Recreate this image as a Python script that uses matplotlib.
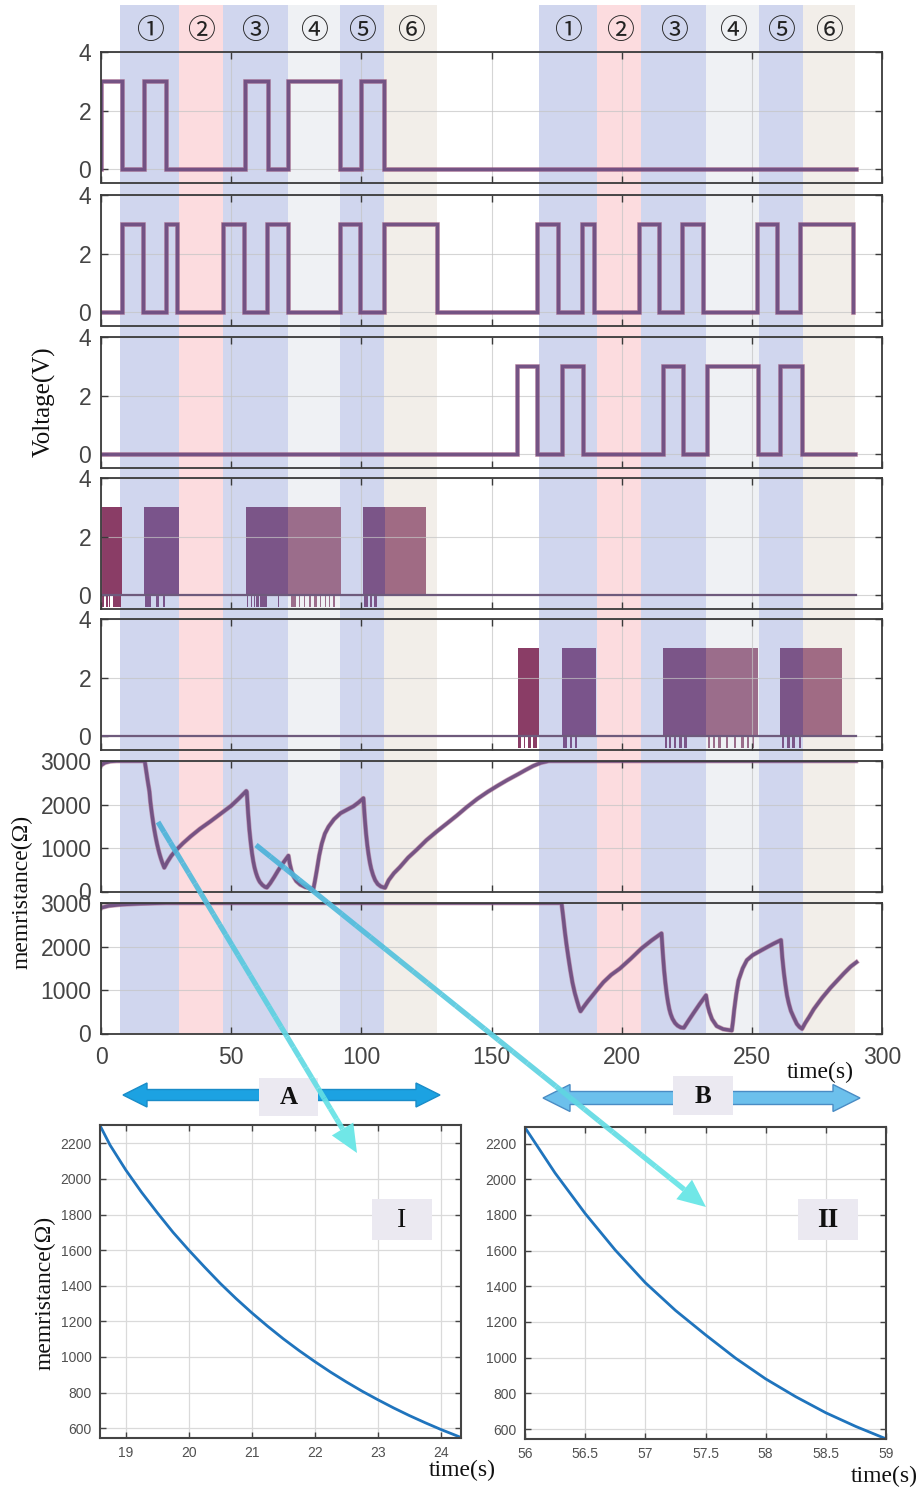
import numpy as np
import matplotlib
matplotlib.use('Agg')
import matplotlib.pyplot as plt
from matplotlib.patches import Rectangle, Polygon
from matplotlib.collections import LineCollection
from matplotlib.colors import to_rgb

# ---------------- data ----------------
band_edges_1 = [7.4, 30.0, 46.8, 71.8, 91.8, 108.8, 128.9]
band_edges_2 = [168.3, 190.7, 207.6, 232.5, 252.6, 269.6, 289.7]
band_labels = ['①', '②', '③', '④', '⑤', '⑥']

v1_pulses = [(0.0, 8.2), (16.4, 25.1), (55.3, 64.1), (72.0, 91.8), (100.0, 108.8)]
v2_pulses = [(8.2, 16.2), (25.0, 29.3), (46.9, 55.1), (63.9, 71.9), (91.8, 99.6),
             (108.8, 128.9), (167.6, 175.4), (184.6, 189.5), (206.6, 214.5),
             (223.2, 231.4), (252.0, 259.8), (268.6, 289.0)]
v3_pulses = [(159.8, 167.6), (177.0, 185.0), (215.8, 223.4), (232.8, 252.2), (261.0, 269.2)]
v_end = [290.0, 289.0, 289.5]
pulse_high = 3.0

burst4_start = [0.0, 16.6, 55.8, 71.8, 100.7, 108.9]
burst4_end = [8.0, 30.0, 71.8, 92.0, 108.9, 125.0]
burst5_start = [160.0, 177.0, 216.0, 232.5, 261.0, 269.6]
burst5_end = [168.3, 190.3, 232.5, 252.3, 269.6, 284.7]
dips4 = [(0.2, 1.2), (2.0, 2.5), (3.0, 3.5), (4.8, 7.5), (17.0, 19.3), (21.2, 22.4), (23.8, 24.5),
         (56.0, 56.6), (57.5, 58.0), (58.6, 59.1), (59.6, 60.5), (61.0, 63.8), (68.0, 68.5),
         (73.0, 74.8), (76.0, 76.5), (78.0, 78.5), (80.0, 80.6), (82.0, 82.8), (84.0, 84.5),
         (86.0, 86.5), (87.5, 88.0), (89.0, 90.0), (101.0, 102.5), (103.5, 104.0), (105.0, 106.0)]
dips5 = [(160.3, 161.5), (162.5, 163.0), (164.0, 165.0), (166.0, 167.5), (177.5, 179.0),
         (180.0, 181.0), (182.0, 183.0), (216.5, 217.5), (218.0, 219.0), (220.0, 221.0),
         (222.0, 223.0), (224.0, 225.0), (233.0, 234.0), (235.0, 236.0), (237.0, 238.0),
         (240.0, 241.0), (243.0, 244.0), (246.0, 247.0), (248.0, 249.0), (250.0, 251.0),
         (261.5, 262.5), (263.5, 264.5), (265.5, 266.5), (268.0, 269.0)]
burst_high = 3.0
dip_low = -0.42

mem1 = [(0, 2900), (1.5, 2960), (3.5, 2990), (6, 3000), (16.8, 3000), (17.3, 2800), (17.9, 2560),
        (18.6, 2300), (19.0, 2050), (19.5, 1810), (20.0, 1600), (20.5, 1413), (21.0, 1248),
        (21.5, 1102), (22.0, 974), (22.5, 860), (23.0, 760), (23.5, 671), (24.0, 593), (24.3, 548),
        (25.5, 680), (27, 820), (29, 960), (31.5, 1110), (34.5, 1270), (38, 1440), (42, 1610),
        (46, 1790), (50, 1970), (53, 2140), (55.8, 2310), (56.0, 2290), (56.5, 1808), (57.0, 1420),
        (57.5, 1128), (58.0, 881), (58.5, 691), (59.0, 545), (59.5, 435), (60.0, 345),
        (60.5, 275), (61.0, 220), (62.0, 150), (63.0, 105), (63.7, 90), (65.0, 190),
        (66.5, 330), (68.0, 480), (70.0, 660), (72.0, 824), (72.5, 640), (73.2, 470),
        (74.0, 340), (75.0, 240), (76.5, 160), (78.5, 100), (81.6, 63), (82.2, 250),
        (82.9, 490), (83.8, 820), (84.8, 1100), (86.0, 1330), (87.4, 1490), (89.5, 1660),
        (92.0, 1800), (94.5, 1880), (97.0, 1960), (99.0, 2050), (100.8, 2145), (101.3, 1700),
        (101.8, 1340), (102.3, 1060), (102.8, 840), (103.3, 660), (103.8, 520), (104.5, 380),
        (105.3, 260), (106.3, 170), (107.5, 115), (109.1, 84), (110.5, 260), (112.5, 420),
        (114.8, 560), (118, 780), (121.3, 962), (125, 1180), (129, 1381), (133, 1570),
        (136.7, 1747), (140.5, 1940), (144.5, 2127), (148.5, 2290), (152.3, 2430),
        (156, 2560), (160.2, 2696), (163, 2790), (166, 2886), (169, 2960), (172, 3000),
        (290, 3000)]

mem2 = [(0, 2890), (3, 2935), (8, 2965), (15, 2985), (25, 3000), (176.9, 3000), (177.5, 2700),
        (178.2, 2330), (178.8, 2050), (179.5, 1760), (180.3, 1450), (181.1, 1170), (182.0, 930),
        (182.9, 740), (183.6, 600), (184.2, 510), (185.5, 620), (187, 740), (190.3, 985),
        (193, 1180), (196, 1350), (199.3, 1493), (203.5, 1720), (207.6, 1955), (211.5, 2140),
        (215.3, 2302), (215.8, 1850), (216.3, 1460), (216.8, 1160), (217.3, 910), (217.8, 715),
        (218.3, 560), (218.8, 450), (219.5, 340), (220.5, 240), (221.5, 180), (222.7, 140),
        (223.9, 131), (225.5, 280), (227.5, 460), (230, 680), (232.4, 878), (233.0, 650),
        (233.7, 492), (234.7, 330), (236.5, 170), (239, 100), (242.3, 69), (242.8, 300),
        (243.2, 531), (244.0, 900), (244.9, 1224), (246.5, 1500), (248.1, 1686), (250.3, 1800),
        (252.6, 1878), (256, 1990), (258.5, 2070), (261.2, 2148), (261.7, 1750), (262.3, 1400),
        (262.9, 1120), (263.5, 880), (264.2, 690), (265.0, 520), (266.1, 370), (267.3, 220),
        (268.3, 150), (269.3, 108), (270.5, 240), (272, 380), (273.8, 560), (277, 820),
        (280.2, 1050), (283, 1230), (285.3, 1378), (288, 1540), (290.2, 1640)]

zoom1_t = [18.59, 18.75, 19.0, 19.25, 19.5, 19.75, 20.0, 20.25, 20.5, 20.75, 21.0, 21.25, 21.5,
           21.75, 22.0, 22.25, 22.5, 22.75, 23.0, 23.25, 23.5, 23.75, 24.0, 24.32]
zoom1_m = [2300, 2190, 2050, 1925, 1810, 1700, 1600, 1505, 1413, 1328, 1248, 1173, 1102,
           1036, 974, 915, 860, 808, 760, 714, 671, 631, 593, 548]
zoom2_t = [56.0, 56.25, 56.5, 56.75, 57.0, 57.25, 57.5, 57.75, 58.0, 58.25, 58.5, 58.75, 59.0]
zoom2_m = [2290, 2035, 1808, 1603, 1420, 1265, 1128, 997, 881, 781, 691, 614, 545]

x_ticks = [0, 50, 100, 150, 200, 250, 300]
v_ticks = [0, 2, 4]
m_ticks = [0, 1000, 2000, 3000]
z1_xticks = [19, 20, 21, 22, 23, 24]
z2_xticks = [56, 56.5, 57, 57.5, 58, 58.5, 59]
z_yticks = [600, 800, 1000, 1200, 1400, 1600, 1800, 2000, 2200]

# ---------------- styles ----------------
W, H = 921, 1487
band_colors = ['#d0d6ee', '#fcdcdf', '#d0d6ee', '#eff1f4', '#d0d6ee', '#f2eee9']
burst_colors = ['#8a3d66', '#7a548b', '#7b5588', '#9b6d8b', '#7b5588', '#a06b84']
line_col = '#6c4c80'
SANS = 'Liberation Sans'
SERIF = 'Liberation Serif'

fig = plt.figure(figsize=(W / 100, H / 100), dpi=100)


def rect(x0, y0, x1, y1):
    return [x0 / W, 1 - y1 / H, (x1 - x0) / W, (y1 - y0) / H]


AX_L, AX_R = 101, 882
# background bands
axbg = fig.add_axes(rect(AX_L, 5, AX_R, 1033))
axbg.set_xlim(0, 300)
axbg.set_ylim(0, 1)
axbg.axis('off')
for edges in (band_edges_1, band_edges_2):
    for i in range(6):
        axbg.axvspan(edges[i], edges[i + 1], color=band_colors[i], lw=0)
        axbg.text((edges[i] + edges[i + 1]) / 2, (1033 - 31) / (1033 - 5), band_labels[i],
                  ha='center', va='center', fontsize=20, color='#222222',
                  family=['Noto Sans CJK SC', 'DejaVu Sans'])

tops = [52, 195, 337, 478, 619, 761, 903]
ph = 130.5
axes = []
for i, tp in enumerate(tops):
    ax = fig.add_axes(rect(AX_L, tp, AX_R, tp + ph))
    ax.set_facecolor('none')
    ax.set_xlim(0, 300)
    ax.set_xticks(x_ticks)
    ax.grid(True, color='#c4c4c4', lw=0.8, alpha=0.7)
    ax.tick_params(direction='in', top=True, right=True, length=5, width=1,
                   colors='#3a3a3a', labelsize=16.5, labelcolor='#444444', pad=7)
    if i < 6:
        ax.tick_params(labelbottom=False)
    for s in ax.spines.values():
        s.set_color('#3a3a3a')
        s.set_linewidth(1.3)
    axes.append(ax)


def steps(pulses, t_end, hi):
    t = [0.0]
    v = [0.0]
    for s, e in pulses:
        t += [s, s, e, e]
        v += [0, hi, hi, 0]
    t.append(t_end)
    v.append(0)
    return np.array(t), np.array(v)


for ax, pulses, te in zip(axes[:3], (v1_pulses, v2_pulses, v3_pulses), v_end):
    t, v = steps(pulses, te, pulse_high)
    ax.plot(t, v, color='#a04f74', lw=3.4, alpha=0.55, solid_joinstyle='miter')
    ax.plot(t, v, color=line_col, lw=2.5, alpha=0.9, solid_joinstyle='miter')

for ax, bs, be, dips in ((axes[3], burst4_start, burst4_end, dips4),
                         (axes[4], burst5_start, burst5_end, dips5)):
    ax.plot([0, 290], [0, 0], color='#6e5a7c', lw=1.6)
    for k, (s, e) in enumerate(zip(bs, be)):
        ax.fill_between([s, e], [0, 0], [burst_high, burst_high], color=burst_colors[k], lw=0)
    for s, e in dips:
        col = '#7b5588'
        for k, (a, b) in enumerate(zip(bs, be)):
            if a <= s <= b:
                col = burst_colors[k]
        ax.fill_between([s, e], [dip_low, dip_low], [0, 0], color=col, lw=0)

for ax in axes[:5]:
    ax.set_ylim(-0.46, 4.0)
    ax.set_yticks(v_ticks)

for ax, mem in ((axes[5], mem1), (axes[6], mem2)):
    arr = np.array(mem, dtype=float)
    ax.plot(arr[:, 0], arr[:, 1], color='#a04f74', lw=3.4, alpha=0.5)
    ax.plot(arr[:, 0], arr[:, 1], color=line_col, lw=2.5, alpha=0.9)
    ax.set_ylim(0, 3000)
    ax.set_yticks(m_ticks)
axes[6].tick_params(pad=9, axis='x')
for ax in axes:
    for lab in ax.get_xticklabels() + ax.get_yticklabels():
        lab.set_family(SANS)

# ---------------- zoom insets ----------------
def inset(r, t, m, xlim, ylim, xt, xtl):
    ax = fig.add_axes(r)
    ax.set_xlim(*xlim)
    ax.set_ylim(*ylim)
    ax.set_xticks(xt)
    ax.set_xticklabels(xtl)
    ax.set_yticks(z_yticks)
    ax.grid(True, color='#dadada', lw=0.9)
    ax.tick_params(direction='in', top=True, right=True, length=4, width=1,
                   colors='#444444', labelsize=10, labelcolor='#505050', pad=6)
    for lab in ax.get_xticklabels() + ax.get_yticklabels():
        lab.set_family(SANS)
    for s in ax.spines.values():
        s.set_color('#444444')
        s.set_linewidth(1.5)
    ax.plot(t, m, color='#1f74bd', lw=2.0)
    return ax


inset(rect(100, 1125, 461, 1438), zoom1_t, zoom1_m, (18.59, 24.32), (545, 2303),
      z1_xticks, [str(v) for v in z1_xticks])
inset(rect(525, 1127, 886, 1439), zoom2_t, zoom2_m, (56, 59), (544, 2293),
      z2_xticks, ['56', '56.5', '57', '57.5', '58', '58.5', '59'])

# ---------------- overlay (pixel coords) ----------------
ov = fig.add_axes([0, 0, 1, 1])
ov.set_xlim(0, W)
ov.set_ylim(H, 0)
ov.axis('off')
ov.set_zorder(20)
ov.patch.set_alpha(0)


def double_arrow(x0, x1, yc, sh, hh, hl, fc, ec):
    pts = [(x0, yc), (x0 + hl, yc - hh / 2), (x0 + hl, yc - sh / 2), (x1 - hl, yc - sh / 2),
           (x1 - hl, yc - hh / 2), (x1, yc), (x1 - hl, yc + hh / 2), (x1 - hl, yc + sh / 2),
           (x0 + hl, yc + sh / 2), (x0 + hl, yc + hh / 2)]
    ov.add_patch(Polygon(pts, closed=True, fc=fc, ec=ec, lw=1.0))


double_arrow(123, 440, 1095, 11, 24, 24, '#1ca2e2', '#1a8cc8')
double_arrow(543, 860, 1098, 13, 27, 27, '#6cc0ec', '#4a8cc4')

for (x0, y0, x1, y1, lab, bold) in ((259, 1078, 318, 1116, 'A', True), (673, 1076, 733, 1115, 'B', True),
                                    (372, 1199, 432, 1240, 'I', False), (798, 1199, 858, 1240, 'II', True)):
    ov.add_patch(Rectangle((x0, y0), x1 - x0, y1 - y0, fc='#ebe9f1', ec='none'))
    ov.text((x0 + x1) / 2, (y0 + y1) / 2 + 1, lab, ha='center', va='center', family=SERIF,
            fontsize=18 if lab in 'AB' else 20, weight='bold' if bold else 'normal', color='#111111')


def cyan_arrow(x0, y0, x1, y1):
    d = np.array([x1 - x0, y1 - y0], dtype=float)
    L = np.hypot(*d)
    u = d / L
    n = np.array([-u[1], u[0]])
    hl, hw = 28, 25
    base = np.array([x1, y1]) - u * hl
    N = 30
    xs = np.linspace(x0, base[0], N + 1)
    ys = np.linspace(y0, base[1], N + 1)
    segs = [[(xs[k], ys[k]), (xs[k + 1], ys[k + 1])] for k in range(N)]
    c0 = np.array(to_rgb('#4db2d9'))
    c1 = np.array(to_rgb('#68e6e6'))
    cols = [tuple(c0 + (c1 - c0) * k / N) + (0.92,) for k in range(N)]
    ov.add_collection(LineCollection(segs, colors=cols, linewidths=3.8, capstyle='butt'))
    tri = [(x1, y1), tuple(base + n * hw / 2), tuple(base - n * hw / 2)]
    ov.add_patch(Polygon(tri, closed=True, fc='#68e6e6', ec='none', alpha=0.95))


cyan_arrow(158, 822, 357, 1153)
cyan_arrow(256, 845, 706, 1207)

ov.text(44, 402, 'Voltage(V)', rotation=90, ha='center', va='center', family=SERIF, fontsize=18, color='#111111')
ov.text(22, 892, 'memristance(Ω)', rotation=90, ha='center', va='center', family=SERIF, fontsize=17, color='#111111')
ov.text(45, 1293, 'memristance(Ω)', rotation=90, ha='center', va='center', family=SERIF, fontsize=17, color='#111111')
ov.text(820, 1072, 'time(s)', ha='center', va='center', family=SERIF, fontsize=17, color='#111111')
ov.text(462, 1470, 'time(s)', ha='center', va='center', family=SERIF, fontsize=17, color='#111111')
ov.text(884, 1476, 'time(s)', ha='center', va='center', family=SERIF, fontsize=17, color='#111111')

fig.savefig('out.png', dpi=100)
